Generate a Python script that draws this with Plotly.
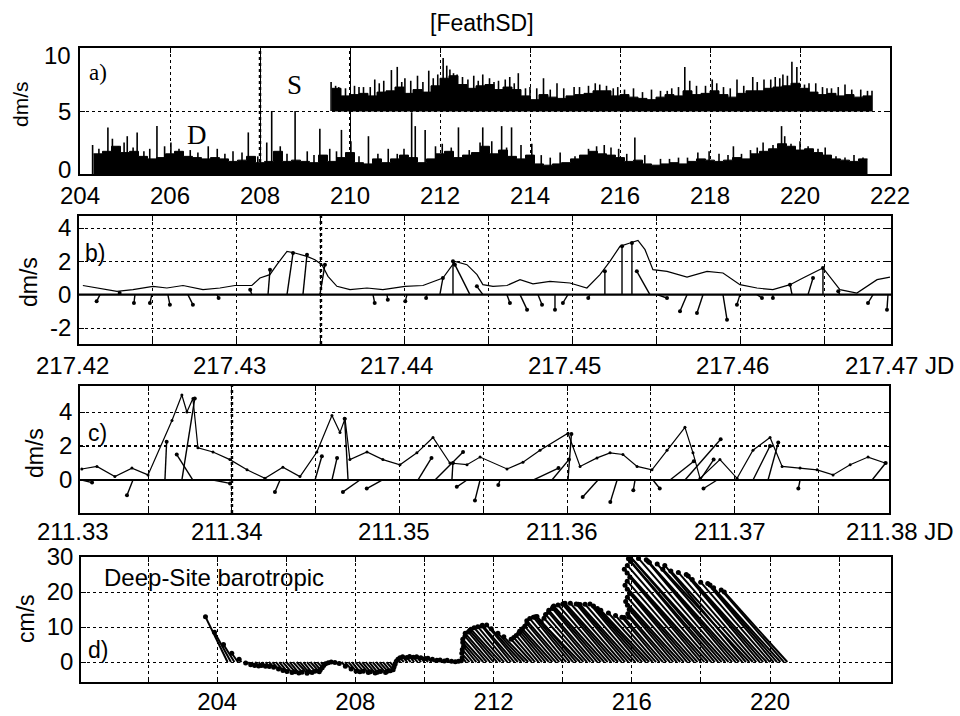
import math
import plotly.graph_objects as go

# ---------------- DATA ----------------
a_d_start = 204.3
a_d_step = 0.2
a_d_level = [1.6, 1.8, 2.2, 1.7, 1.8, 1.4, 1.2, 1.3, 1.6, 1.8,
             1.4, 1.3, 1.2, 1.3, 1.2, 1.0, 1.1, 1.4, 0.9, 1.0,
             1.8, 1.0, 1.1, 1.0, 0.9, 1.5, 1.0, 1.3, 1.7, 0.9,
             0.8, 1.2, 0.9, 1.2, 1.5, 1.3, 0.9, 1.2, 1.6, 1.8,
             1.3, 1.5, 1.7, 2.2, 1.6, 1.9, 1.4, 1.2, 1.5, 0.8,
             0.7, 0.8, 0.9, 1.2, 1.5, 1.8, 1.6, 1.5, 1.3, 1.0,
             1.1, 0.8, 0.7, 0.8, 0.9, 0.8, 1.0, 1.2, 1.1, 1.0,
             1.1, 1.3, 1.2, 1.6, 1.8, 2.0, 2.4, 2.2, 1.9, 2.0,
             1.7, 1.5, 1.2, 1.1, 1.0, 1.2]
a_d_spike_t = [204.28, 204.42, 204.62, 204.72, 204.85, 204.98, 205.05, 205.18, 205.27, 205.42,
               205.55, 205.71, 205.88, 206.02, 206.2, 206.45, 206.62, 206.85, 207.05, 207.22,
               207.4, 207.6, 207.74, 207.95, 208.15, 208.26, 208.45, 208.6, 208.78, 209.05,
               209.2, 209.33, 209.55, 209.7, 209.81, 210.02, 210.2, 210.41, 210.62, 210.85,
               211.05, 211.2, 211.37, 211.45, 211.67, 211.9, 212.05, 212.25, 212.41, 212.65,
               212.89, 212.95, 213.15, 213.37, 213.48, 213.59, 213.8, 214.04, 214.25, 214.45,
               214.67, 215.0, 215.3, 215.48, 215.65, 215.8, 215.97, 216.15, 216.33, 216.55,
               216.9, 217.1, 217.3, 217.5, 217.73, 217.98, 218.2, 218.4, 218.52, 218.7,
               218.9, 219.05, 219.18, 219.4, 219.59, 219.66, 219.8, 220.0, 220.18, 220.4,
               220.56, 220.8, 221.0, 221.2, 221.4]
a_d_spike_h = [2.3, 2.0, 3.7, 2.8, 2.2, 2.5, 3.0, 2.1, 3.3, 1.8,
               2.0, 3.8, 2.2, 2.5, 2.0, 1.9, 1.7, 2.2, 2.0, 1.6,
               1.8, 1.7, 3.3, 1.4, 2.5, 5.0, 2.2, 1.6, 5.0, 1.8,
               1.5, 3.6, 2.0, 1.8, 3.5, 2.6, 1.4, 3.0, 1.6, 2.0,
               1.6, 2.0, 4.9, 3.8, 3.5, 2.2, 2.4, 2.1, 3.7, 1.9,
               2.5, 3.7, 2.6, 3.8, 2.1, 3.7, 2.3, 2.4, 1.5, 1.3,
               1.7, 1.4, 2.0, 2.2, 2.3, 2.1, 2.0, 1.6, 2.9, 1.5,
               1.2, 1.2, 1.3, 1.3, 1.7, 1.8, 1.6, 1.5, 2.2, 1.6,
               1.9, 2.1, 2.5, 2.3, 3.8, 3.0, 2.4, 2.6, 2.2, 2.0,
               2.1, 1.4, 1.3, 1.5, 1.3]

a_s_start = 209.6
a_s_step = 0.2
a_s_base = 5.0
a_s_level = [6.8, 6.2,
             6.3, 6.4, 6.2, 6.5, 6.6,
             6.9, 6.4, 6.7, 6.5, 7.0,
             7.6, 7.8, 7.1, 6.8, 7.0,
             7.1, 6.7, 6.9, 6.7, 6.2,
             5.9, 6.3, 6.1, 6.0, 6.2,
             6.3, 6.4, 6.6, 6.6, 6.2,
             6.3, 6.1, 6.0, 5.9, 6.1,
             6.3, 6.2, 6.6, 6.3, 6.4,
             6.6, 6.3, 6.1, 6.4, 6.6,
             6.6, 6.8, 6.9, 7.0, 7.2,
             6.8, 6.5, 6.3, 6.4, 6.2,
             6.3, 6.1, 6.2]
a_s_spike_t = [209.58, 209.68, 209.75, 209.9, 210.1, 210.2, 210.3, 210.45, 210.55, 210.65,
               210.75, 210.92, 211.05, 211.15, 211.22, 211.35, 211.5, 211.62, 211.75, 211.85,
               211.95, 212.07, 212.15, 212.22, 212.3, 212.38, 212.5, 212.62, 212.75, 212.85,
               212.95, 213.1, 213.2, 213.3, 213.45, 213.55, 213.65, 213.74, 213.9, 214.0,
               214.15, 214.3, 214.45, 214.6, 214.75, 214.98, 215.1, 215.3, 215.45, 215.55,
               215.7, 215.85, 215.95, 216.1, 216.3, 216.5, 216.7, 216.9, 217.05, 217.15,
               217.3, 217.44, 217.55, 217.7, 217.9, 218.05, 218.15, 218.3, 218.45, 218.6,
               218.75, 218.95, 219.05, 219.2, 219.35, 219.45, 219.55, 219.62, 219.72, 219.82,
               219.93, 220.1, 220.2, 220.35, 220.5, 220.6, 220.7, 220.85, 221.0, 221.15,
               221.35, 221.5, 221.6]
a_s_spike_h = [7.3, 7.0, 6.9, 6.8, 7.0, 6.9, 6.9, 6.9, 7.5, 7.2,
               7.4, 8.25, 8.5, 7.3, 7.6, 7.4, 7.8, 7.3, 8.2, 7.6,
               7.9, 9.2, 8.6, 8.3, 8.0, 7.9, 7.7, 7.5, 7.8, 7.4,
               7.9, 7.6, 7.3, 7.4, 7.5, 7.7, 7.2, 8.0, 6.8, 6.9,
               6.8, 7.6, 6.7, 7.2, 6.8, 6.9, 6.9, 7.0, 7.2, 7.1,
               7.0, 6.8, 6.9, 6.7, 6.8, 6.5, 6.7, 6.6, 6.6, 6.8,
               6.9, 8.5, 7.4, 7.0, 7.0, 7.5, 7.2, 6.9, 6.8, 7.5,
               7.0, 7.7, 7.3, 7.5, 7.5, 7.7, 7.6, 7.9, 7.8, 8.9,
               8.5, 7.1, 7.2, 7.2, 6.9, 6.8, 6.8, 6.9, 7.1, 6.7,
               6.7, 6.6, 6.6]
a_y_ticks = [0, 5, 10]

b_line_t = [217.42083, 217.42167, 217.42286, 217.42381, 217.42500, 217.42583, 217.42679, 217.42798,
            217.42899, 217.42988, 217.43089, 217.43137, 217.43196, 217.43238, 217.43298, 217.43345,
            217.43417, 217.43464, 217.43506, 217.43542, 217.43595, 217.43673, 217.43774, 217.43869,
            217.44000, 217.44107, 217.44226, 217.44298, 217.44369, 217.44429, 217.44464, 217.44524,
            217.44607, 217.44685, 217.44762, 217.44863, 217.44982, 217.45083, 217.45161, 217.45220,
            217.45280, 217.45339, 217.45387, 217.45429, 217.45476, 217.45560, 217.45679, 217.45798,
            217.45893, 217.45994, 217.46095, 217.46190, 217.46292, 217.46369, 217.46488, 217.46589,
            217.46690, 217.46810, 217.46887]
b_line_v = [0.55, 0.4, 0.2, 0.3, 0.5, 0.4, 0.55, 0.3,
            0.4, 0.55, 0.55, 1.0, 1.2, 1.8, 2.6, 2.5,
            2.3, 2.1, 1.8, 1.1, 0.5, 0.3, 0.4, 0.3,
            0.5, 0.55, 1.0, 2.0, 1.8, 1.2, 0.6, 0.5,
            0.55, 0.9, 0.65, 0.8, 0.7, 0.4, 1.2, 2.0,
            2.9, 3.1, 3.25, 2.7, 1.5, 1.4, 1.05, 1.4,
            1.3, 0.6, 0.4, 0.3, 0.6, 1.0, 1.6, 0.3,
            0.1, 0.9, 1.05]
b_stick_t = [217.42185, 217.42292, 217.42393, 217.42494, 217.42589, 217.42708, 217.42881, 217.43089,
             217.43185, 217.43298, 217.43393, 217.43494, 217.43810, 217.43893, 217.44012, 217.44131,
             217.44208, 217.44286, 217.44387, 217.44464, 217.44607, 217.44685, 217.44792, 217.44893,
             217.44970, 217.45101, 217.45190, 217.45292, 217.45351, 217.45458, 217.45500, 217.45679,
             217.45774, 217.45893, 217.45994, 217.46095, 217.46190, 217.46304, 217.46399, 217.46488,
             217.46589, 217.46786, 217.46875]
b_stick_u = [-0.2, 0.1, -0.06, -0.12, 0.12, 0.3, 0.1, -0.1, 0.12, 0.36,
             0.24, 0.3, 0.1, 0.05, -0.1, -0.05, 0.18, 0.0, -0.9, -0.36,
             0.18, 0.42, 0.24, 0.0, -0.3, -0.1, 0.0, 0.0, 0.0, -0.78,
             0.6, -0.42, -0.36, 0.24, -0.18, 0.3, 0.0, -0.12, 0.3, 0.0,
             -0.1, -0.3, -0.06]
b_stick_v = [-0.4, 0.1, -0.5, -0.5, -0.6, -0.6, -0.2, 0.3, 1.5, 2.5,
             2.4, 1.8, -0.5, -0.3, -0.4, -0.2, 1.0, 2.0, 1.8, 0.5,
             -0.5, -0.9, -0.6, -0.9, -0.5, -0.2, 1.4, 2.9, 3.1, 1.4,
             -0.2, -1.0, -1.1, -1.5, -0.6, -0.2, -0.2, 0.6, 1.0, 1.6,
             0.2, -0.5, -0.9]
b_tick_vals = [217.42, 217.43, 217.44, 217.45, 217.46, 217.47]
b_tick_text = ["217.42", "217.43", "217.44", "217.45", "217.46", "217.47 JD"]

c_line_t = [211.33104, 211.33194, 211.33301, 211.33403, 211.33499, 211.33642, 211.33701, 211.33731,
            211.33767, 211.33797, 211.33887, 211.33988, 211.34090, 211.34197, 211.34304, 211.34406,
            211.34507, 211.34597, 211.34645, 211.34675, 211.34704, 211.34806, 211.34901, 211.35003,
            211.35104, 211.35200, 211.35301, 211.35403, 211.35481, 211.35642, 211.35737, 211.35839,
            211.36006, 211.36078, 211.36179, 211.36257, 211.36334, 211.36418, 211.36507, 211.36597,
            211.36704, 211.36752, 211.36794, 211.36913, 211.37015, 211.37110, 211.37212, 211.37284,
            211.37391, 211.37493, 211.37588, 211.37690, 211.37797, 211.37899]
c_line_v = [0.65, 0.8, 0.2, 0.7, 0.3, 3.5, 5.0, 4.0,
            4.8, 1.9, 1.65, 1.2, 0.6, 0.1, 0.75, 0.2,
            1.65, 3.8, 2.8, 3.6, 1.2, 1.65, 1.2, 0.9,
            1.6, 2.5, 1.0, 0.9, 1.35, 0.65, 1.05, 1.75,
            2.75, 0.8, 1.3, 1.6, 1.5, 0.8, 0.6, 1.75,
            3.1, 1.6, 0.1, 1.2, 0.1, 1.75, 2.5, 0.8,
            0.7, 0.6, 0.3, 0.9, 1.35, 1.0]
c_stick_t = [211.33104, 211.33409, 211.33600, 211.33701, 211.33767, 211.33887, 211.34287, 211.34496,
             211.34597, 211.34693, 211.34764, 211.34896, 211.35110, 211.35212, 211.35313, 211.35403,
             211.35481, 211.35600, 211.35797, 211.35910, 211.36006, 211.36185, 211.36299, 211.36406,
             211.36513, 211.36615, 211.36704, 211.36794, 211.36896, 211.37110, 211.37200, 211.37391,
             211.37821]
c_stick_u = [0.6, -0.35, 0.1, 0.76, -0.95, 1.0, -0.3, 0.4, 0.3, -0.2,
             -1.0, -0.9, 0.8, 1.65, 0.06, -0.6, -0.3, -0.1, 1.5, 1.0,
             0.2, -0.9, -0.4, -0.1, 0.4, 1.4, 2.1, 0.8, -0.8, 1.0,
             0.6, -0.1, 0.8]
c_stick_v = [-0.15, -0.9, 2.25, 4.8, 1.5, -0.2, -0.7, 1.4, 1.3, 3.6,
             -0.7, -0.5, 1.3, 1.65, 1.0, -0.4, -1.2, -0.3, 0.7, 1.2,
             2.7, -1.0, -1.3, -0.6, -0.5, 1.1, 2.4, 1.2, -0.5, 2.0,
             2.2, -0.5, 1.0]
c_tick_vals = [211.33, 211.34, 211.35, 211.36, 211.37, 211.38]
c_tick_text = ["211.33", "211.34", "211.35", "211.36", "211.37", "211.38 JD"]

d_start = 204.3
d_step = 0.1
d_north = [12.9, 8.5, 5.0, 2.5, 0.8, -0.3, -0.8,
           -1.0, -1.1, -1.0, -1.2, -1.3, -1.5, -2.0, -2.4, -2.7, -3.0,
           -2.8, -3.1, -2.9, -3.2, -2.8, -3.0, -2.6, -2.8, -2.2, -1.6,
           -1.0, -0.5, -0.2, 0.0, -0.1, -0.4, -1.2, -2.0, -2.6, -2.8,
           -2.6, -3.0, -2.8, -3.1, -2.9, -2.7, -3.0, -2.6, -2.5, -2.2,
           -1.4, -0.6, 0.2, 0.8, 1.2, 1.5, 1.3, 1.6, 1.4, 1.5,
           1.2, 1.0, 1.1, 0.8, 0.5, 0.6, 0.3, 0.5, 0.2, 0.1,
           0.2, 0.4, 1.2, 2.5, 3.6, 4.5, 5.6, 6.5, 7.4, 8.2,
           8.6, 9.0, 9.4, 9.8, 10.1, 10.3, 10.5, 10.6, 9.5, 8.2,
           7.2, 6.5, 7.0, 7.6, 8.2, 8.8, 9.1, 9.5, 10.2, 11.0,
           11.8, 12.4, 12.8, 12.9, 13.0, 11.5, 12.5, 13.6, 14.2, 14.8,
           15.3, 15.7, 16.0, 16.3, 16.5, 16.7, 16.8, 16.8, 16.6, 16.5,
           16.4, 16.5, 16.6, 16.0, 15.3, 14.8, 14.0, 13.3, 12.8, 12.7,
           12.8, 13.8, 15.0, 16.2, 17.3, 18.5, 19.6, 20.8, 21.9, 23.1,
           24.2, 25.4, 26.5, 27.6, 28.7, 29.5, 30.0, 30.0, 29.6, 29.2,
           28.8, 28.4, 28.0, 27.6, 26.5, 26.0, 25.6, 25.0, 24.6, 23.6,
           22.8, 22.4, 22.0, 21.2, 20.6, 20.0]
d_heading = [-26, -29, -32, -35, -38, -40, -41,
             -40, -42, -41, -39, -40, -42, -41, -40, -39, -41,
             -42, -40, -41, -43, -40, -39, -41, -42, -40, -41,
             -40, -38, -39, -40, -41, -40, -42, -41, -40, -39,
             -41, -42, -40, -41, -39, -40, -42, -41, -40, -41,
             -40, -39, -38, -40, -42, -41, -40, -39, -41, -40,
             -41, -40, -42, -41, -40, -39, -40, -41, -40, -40,
             -38, -40, -42, -41, -40, -39, -41, -42, -40, -41,
             -40, -41, -42, -41, -40, -39, -41, -40, -42, -43,
             -44, -42, -41, -40, -39, -40, -41, -42, -41, -40,
             -41, -40, -39, -40, -41, -44, -42, -41, -40, -41,
             -40, -41, -42, -41, -40, -41, -42, -41, -40, -41,
             -42, -41, -40, -41, -42, -43, -42, -41, -40, -41,
             -40, -41, -40, -41, -42, -41, -40, -41, -42, -41,
             -40, -41, -42, -41, -40, -41, -41, -42, -41, -40,
             -41, -42, -41, -40, -43, -42, -41, -40, -41, -42,
             -41, -40, -41, -42, -41, -42]

# ---------------- LAYOUT HELPERS ----------------
W, H = 960, 716
FONT = "Liberation Sans, Arial, sans-serif"
SERIF = "Liberation Serif, Times New Roman, serif"


def fx(p):
    return p / W


def fy(p):
    return 1 - p / H


boxes = {  # left, top, right, bottom in pixels
    "a": (80, 48, 890, 174),
    "b": (79, 216, 891, 344),
    "c": (80, 386, 889, 513),
    "d": (81, 557, 891, 682),
}


def dom(k):
    l, t, r, b = boxes[k]
    return [fx(l), fx(r)], [fy(b), fy(t)]


fig = go.Figure()

# ---------------- PANEL a ----------------
xd = [a_d_start + a_d_step * i for i in range(len(a_d_level) + 1)]
yd = a_d_level + [a_d_level[-1]]
fig.add_trace(go.Scatter(x=xd, y=yd, mode="lines", line=dict(color="black", width=1, shape="hv"),
                         fill="tozeroy", fillcolor="black", xaxis="x", yaxis="y", hoverinfo="skip"))
sx, sy = [], []
for t, h in zip(a_d_spike_t, a_d_spike_h):
    sx += [t, t, None]
    sy += [0, h, None]
fig.add_trace(go.Scatter(x=sx, y=sy, mode="lines", line=dict(color="black", width=1.6),
                         xaxis="x", yaxis="y", hoverinfo="skip"))

xs = [a_s_start + a_s_step * i for i in range(len(a_s_level) + 1)]
ys = a_s_level + [a_s_level[-1]]
fig.add_trace(go.Scatter(x=[xs[0], xs[-1]], y=[a_s_base, a_s_base], mode="lines",
                         line=dict(color="black", width=1), xaxis="x", yaxis="y", hoverinfo="skip"))
fig.add_trace(go.Scatter(x=xs, y=ys, mode="lines", line=dict(color="black", width=1, shape="hv"),
                         fill="tonexty", fillcolor="black", xaxis="x", yaxis="y", hoverinfo="skip"))
sx, sy = [], []
for t, h in zip(a_s_spike_t, a_s_spike_h):
    sx += [t, t, None]
    sy += [a_s_base, h, None]
fig.add_trace(go.Scatter(x=sx, y=sy, mode="lines", line=dict(color="black", width=1.6),
                         xaxis="x", yaxis="y", hoverinfo="skip"))


# ---------------- PANELS b, c ----------------
def sticks(ts, us, vs, xscale, xa, ya, lw=1.4, ms=4):
    x, y, tx, ty = [], [], [], []
    for t, u, v in zip(ts, us, vs):
        xe = t + u * xscale
        x += [t, xe, None]
        y += [0, v, None]
        tx.append(xe)
        ty.append(v)
    fig.add_trace(go.Scatter(x=x, y=y, mode="lines", line=dict(color="black", width=lw),
                             xaxis=xa, yaxis=ya, hoverinfo="skip"))
    fig.add_trace(go.Scatter(x=tx, y=ty, mode="markers", marker=dict(color="black", size=ms),
                             xaxis=xa, yaxis=ya, hoverinfo="skip"))


fig.add_trace(go.Scatter(x=b_line_t, y=b_line_v, mode="lines", line=dict(color="black", width=1.2),
                         xaxis="x2", yaxis="y2", hoverinfo="skip"))
sticks(b_stick_t, b_stick_u, b_stick_v, 16.75 / 16800, "x2", "y2")

fig.add_trace(go.Scatter(x=c_line_t, y=c_line_v, mode="lines+markers", line=dict(color="black", width=1.2),
                         marker=dict(size=3, color="black"),
                         xaxis="x3", yaxis="y3", hoverinfo="skip"))
sticks(c_stick_t, c_stick_u, c_stick_v, 17 / 16750, "x3", "y3")

# ---------------- PANEL d ----------------
d_xscale = 3.5 / 34.55
x, y, tx, ty = [], [], [], []
for i, (vn, hd) in enumerate(zip(d_north, d_heading)):
    t = d_start + d_step * i
    ve = vn * math.tan(math.radians(hd))
    xe = t + ve * d_xscale
    x += [t, xe, None]
    y += [0, vn, None]
    tx.append(xe)
    ty.append(vn)
fig.add_trace(go.Scatter(x=x, y=y, mode="lines", line=dict(color="black", width=2.0),
                         xaxis="x4", yaxis="y4", hoverinfo="skip"))
fig.add_trace(go.Scatter(x=tx, y=ty, mode="markers", marker=dict(color="black", size=5),
                         xaxis="x4", yaxis="y4", hoverinfo="skip"))

# ---------------- AXES ----------------
base_ax = dict(showline=True, linecolor="black", linewidth=1.5, mirror="ticks", ticks="inside",
               ticklen=5, tickcolor="black", tickwidth=1, showgrid=True, gridcolor="black",
               griddash="dot", gridwidth=1, zeroline=False, automargin=False,
               tickfont=dict(family=FONT, size=24, color="black"))

ranges = {
    "a": ([204, 222], [0, 10]),
    "b": ([217.4206, 217.46893], [-2.96, 4.72]),
    "c": ([211.33093, 211.37922], [-1.94, 5.53]),
    "d": ([200.06, 223.5], [-5.7, 30]),
}

xa, ya = dom("a")
fig.update_layout(
    xaxis=dict(base_ax, domain=xa, anchor="y", range=ranges["a"][0], tickvals=list(range(204, 223, 2)),
               ticktext=[str(v) for v in range(204, 223, 2)], ticklabelstandoff=-1),
    yaxis=dict(base_ax, domain=ya, anchor="x", range=ranges["a"][1], tickvals=a_y_ticks,
               showticklabels=False),
)
xb, yb = dom("b")
fig.update_layout(
    xaxis2=dict(base_ax, domain=xb, anchor="y2", range=ranges["b"][0],
                tickvals=[217.425, 217.43, 217.435, 217.44, 217.445, 217.45, 217.455, 217.46, 217.465],
                showticklabels=False),
    yaxis2=dict(base_ax, domain=yb, anchor="x2", range=ranges["b"][1], tickvals=[-2, 0, 2, 4],
                ticktext=["-2", "0", "2", "4"], ticklabelstandoff=1),
)
xc, yc = dom("c")
fig.update_layout(
    xaxis3=dict(base_ax, domain=xc, anchor="y3", range=ranges["c"][0],
                tickvals=[211.335, 211.34, 211.345, 211.35, 211.355, 211.36, 211.365, 211.37, 211.375],
                showticklabels=False),
    yaxis3=dict(base_ax, domain=yc, anchor="x3", range=ranges["c"][1], tickvals=[0, 2, 4],
                ticktext=["0", "2", "4"], ticklabelstandoff=1),
)
xdd, ydd = dom("d")
fig.update_layout(
    xaxis4=dict(base_ax, domain=xdd, anchor="y4", range=ranges["d"][0],
                tickvals=list(range(202, 223, 2)),
                ticktext=[str(v) if v % 4 == 0 else "" for v in range(202, 223, 2)],
                ticklabelstandoff=-3),
    yaxis4=dict(base_ax, domain=ydd, anchor="x4", range=ranges["d"][1], tickvals=[0, 10, 20, 30],
                ticktext=["0", "10", "20", "30"], ticklabelstandoff=1),
)

# ---------------- SHAPES ----------------
shapes = [
    dict(type="line", xref="x2 domain", yref="y2", x0=0, x1=1, y0=0, y1=0, line=dict(color="black", width=2.2)),
    dict(type="line", xref="x3 domain", yref="y3", x0=0, x1=1, y0=0, y1=0, line=dict(color="black", width=2.2)),
    dict(type="line", xref="x", yref="y domain", x0=208, x1=208, y0=0, y1=1, line=dict(color="black", width=2.5, dash="dot")),
    dict(type="line", xref="x", yref="y domain", x0=210, x1=210, y0=0, y1=1, line=dict(color="black", width=2, dash="dot")),
    dict(type="line", xref="x2", yref="y2 domain", x0=217.435, x1=217.435, y0=0, y1=1, line=dict(color="black", width=2.5, dash="dot")),
    dict(type="line", xref="x3", yref="y3 domain", x0=211.34, x1=211.34, y0=0, y1=1, line=dict(color="black", width=2.5, dash="dot")),
    dict(type="line", xref="x3 domain", yref="y3", x0=0, x1=1, y0=2, y1=2, line=dict(color="black", width=2.2, dash="dot")),
]
for s in shapes:
    s["layer"] = "below"
fig.update_layout(shapes=shapes)

# ---------------- ANNOTATIONS ----------------
ann = []


def txt(text, x, y, size=24, family=FONT, angle=0, xanchor="center", **kw):
    ann.append(dict(text=text, x=fx(x), y=fy(y), xref="paper", yref="paper", showarrow=False,
                    font=dict(family=family, size=size, color="black"), textangle=angle,
                    xanchor=xanchor, yanchor="middle", **kw))


txt("[FeathSD]", 482, 23, size=23)
txt("dm/s", 21, 104, size=21, angle=-90)
txt("dm/s", 29, 282, size=23, angle=-90)
txt("dm/s", 35, 453, size=23, angle=-90)
txt("cm/s", 26, 619, size=23, angle=-90)
txt("a)", 98, 72, size=23, family=SERIF)
txt("S", 294, 85, size=27, family=SERIF)
txt("D", 197, 135, size=27, family=SERIF)
txt("b)", 95, 253, size=23)
txt("c)", 97, 433, size=23)
txt("d)", 98, 650, size=23)
ann.append(dict(text="Deep-Site barotropic", x=fx(102), y=fy(577), xref="paper", yref="paper",
                showarrow=False, xanchor="left", yanchor="middle",
                font=dict(family=FONT, size=24, color="black")))

# panel a y tick labels, nudged inside the frame as in the original
_, (ay0, ay1) = dom("a")
a_label_nudge = {0: 4, 5: 0, 10: -7}
for v in a_y_ticks:
    yp = ay0 + (v - ranges["a"][1][0]) / (ranges["a"][1][1] - ranges["a"][1][0]) * (ay1 - ay0)
    ann.append(dict(text=str(v), x=fx(73), y=yp, xref="paper", yref="paper", showarrow=False,
                    xanchor="right", yanchor="middle", yshift=a_label_nudge[v],
                    font=dict(family=FONT, size=24, color="black")))


def jd_labels(key, vals, texts, shifts, yshift):
    (r0, r1), _ = ranges[key]
    (d0, d1), (e0, _) = dom(key)
    for v, t, s in zip(vals, texts, shifts):
        xp = d0 + (v - r0) / (r1 - r0) * (d1 - d0)
        ann.append(dict(text=t, x=xp, xref="paper", y=e0, yref="paper", yanchor="middle",
                        xanchor="center", yshift=yshift, xshift=s, showarrow=False,
                        font=dict(family=FONT, size=24, color="black")))


jd_labels("b", b_tick_vals, b_tick_text, [4, -7, -8, -8, -8, -9], -21)
jd_labels("c", c_tick_vals, c_tick_text, [9, -5, -5, -5, -5, -2], -18)

fig.update_layout(annotations=ann, width=W, height=H, margin=dict(l=0, r=0, t=0, b=0, pad=0),
                  paper_bgcolor="white", plot_bgcolor="white", showlegend=False)

fig.write_html("out.html")
